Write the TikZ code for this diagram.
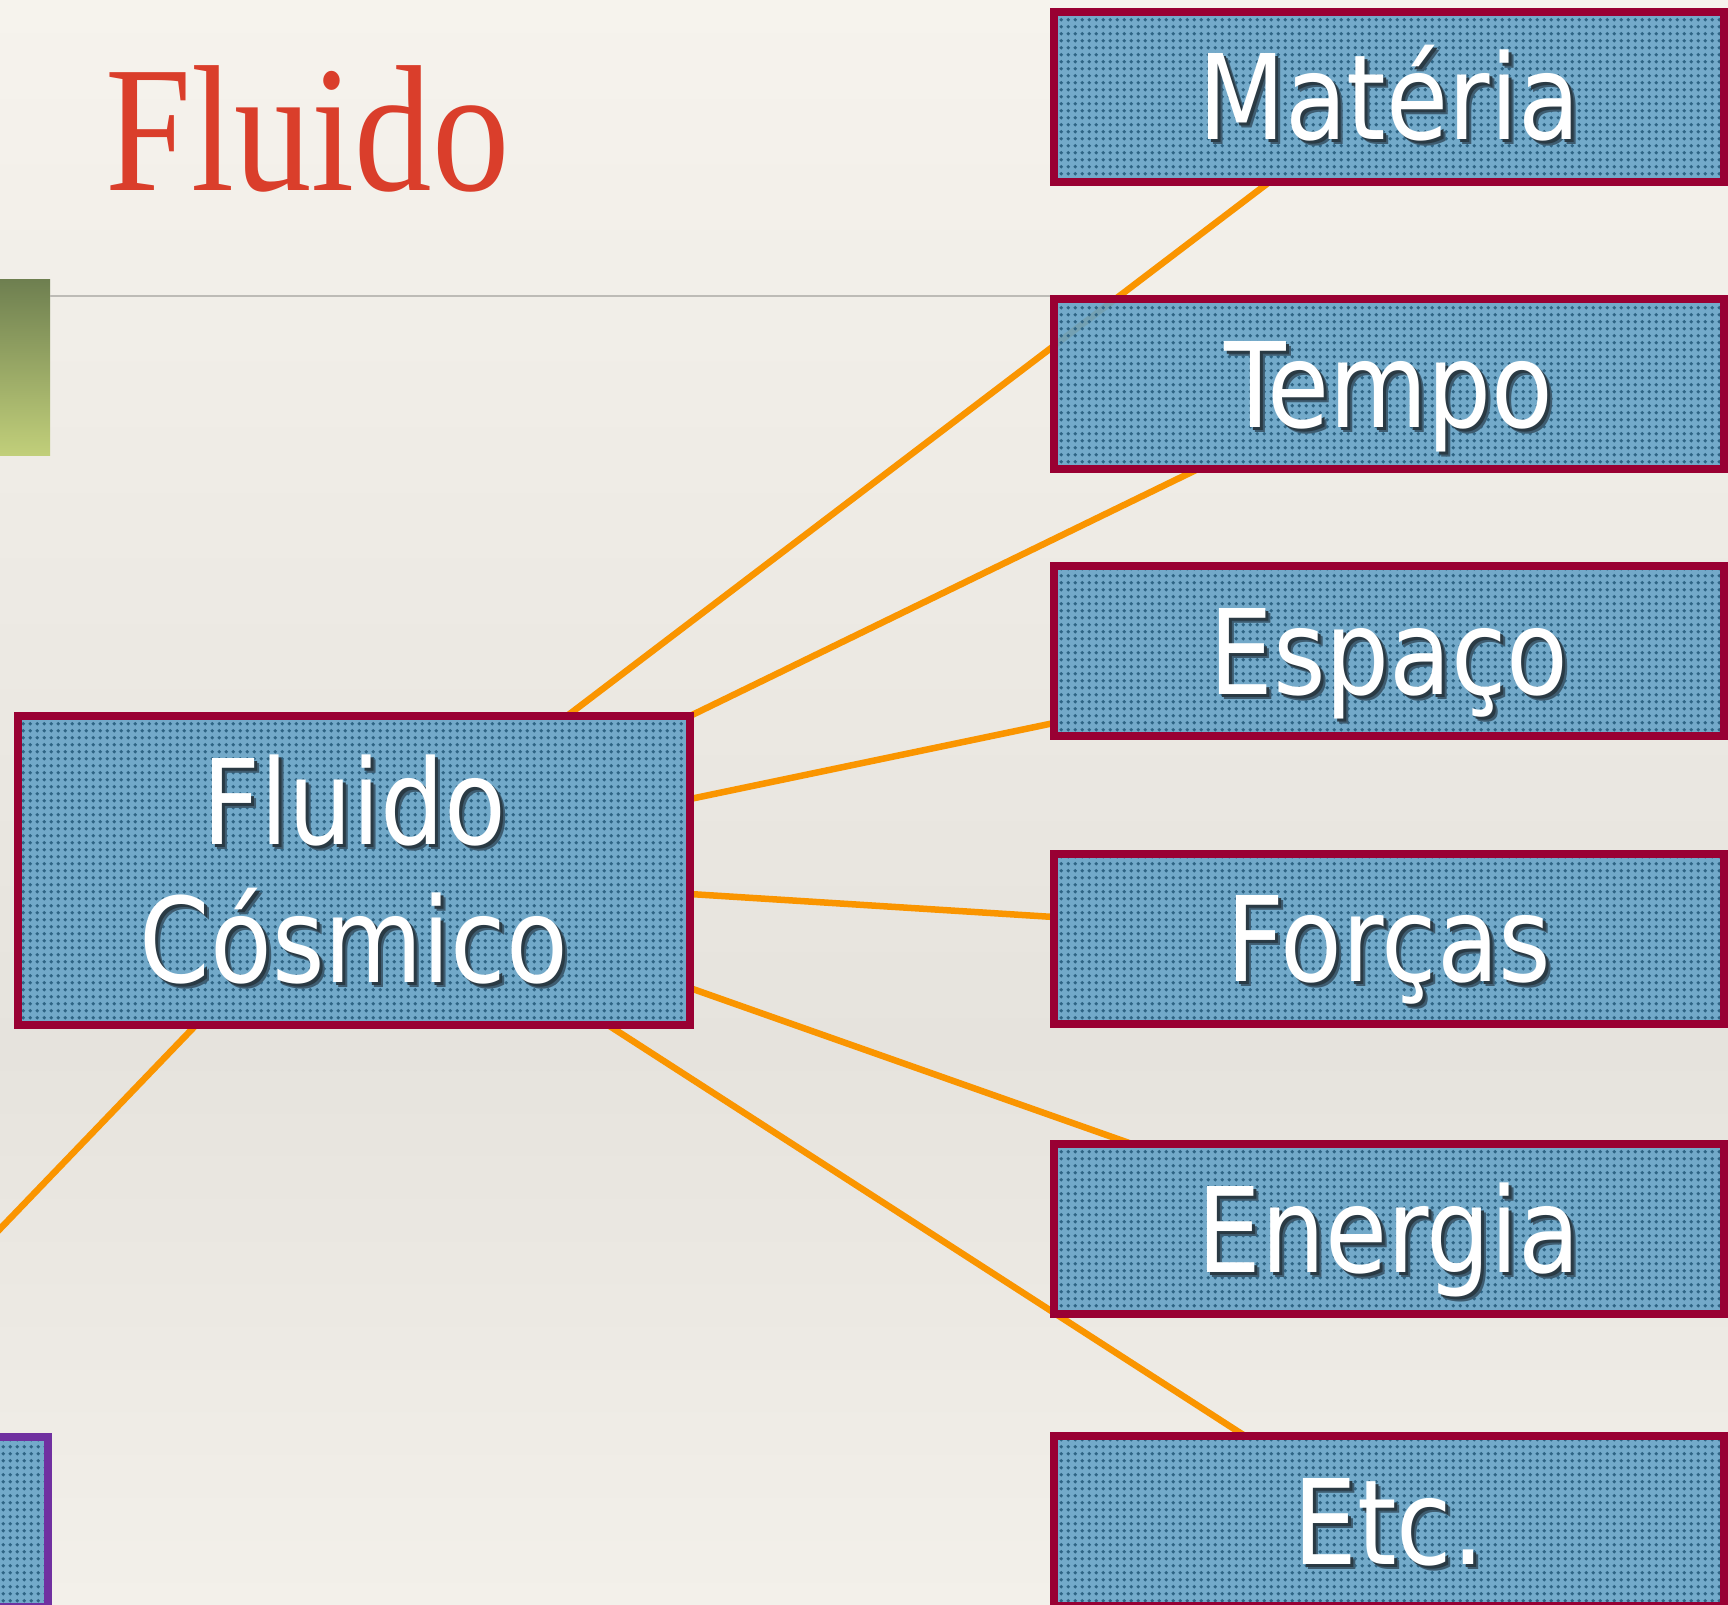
\documentclass[tikz,border=0pt]{standalone}
\usepackage{fontspec}
\usepackage{graphicx}
\usetikzlibrary{calc,patterns.meta}
\setmainfont{Liberation Serif}
\newfontfamily\boxfont[FakeStretch=0.95]{DejaVu Sans Condensed}
\definecolor{paperTop}{HTML}{F6F3ED}
\definecolor{paperMid}{HTML}{E6E3DD}
\definecolor{paperBot}{HTML}{F3F0EA}
\definecolor{barTop}{HTML}{6E7F50}
\definecolor{barBot}{HTML}{C1CF7A}
\definecolor{rulegray}{HTML}{BDBBB6}
\definecolor{titlered}{HTML}{DA3E2B}
\definecolor{boxred}{HTML}{990033}
\definecolor{boxpurple}{HTML}{7030A0}
\definecolor{boxblue}{HTML}{66A3C7}
\definecolor{dotblue}{HTML}{2E6484}
\definecolor{shade}{HTML}{2A3A44}
\definecolor{shadesoft}{HTML}{3E5C70}
\definecolor{linkorange}{HTML}{FA9500}
\tikzdeclarepattern{
  name=halftone,
  type=uncolored,
  bounding box={(0pt,0pt) and (6.7pt,6.7pt)},
  tile size={(6.7pt,6.7pt)},
  code={\fill (3.35pt,3.35pt) circle (2pt);}
}
\newcommand\shtxt[1]{\makebox[0pt][l]{\kern5pt\raisebox{-5pt}{\color{shadesoft}#1}}\makebox[0pt][l]{\kern3pt\raisebox{-3pt}{\color{shade}#1}}#1}
\pgfdeclarelayer{bg}
\pgfsetlayers{bg,main}
\begin{document}
\begin{tikzpicture}[x=1pt,y=-1pt,
  box/.style={draw=boxred, line width=8pt,
    preaction={fill=boxblue, fill opacity=0.9},
    preaction={pattern={halftone}, pattern color=dotblue},
    minimum width=670pt, minimum height=170pt, inner sep=0pt, outer sep=0pt,
    text=white, font=\boxfont\fontsize{118pt}{138pt}\selectfont,
    text height=86pt, text depth=0pt},
  link/.style={draw=linkorange, line width=6.5pt}]
\useasboundingbox (0,0) rectangle (1728,1604);
\begin{pgfonlayer}{bg}
\shade[top color=paperTop, bottom color=paperMid] (0,0) rectangle (1728,1050);
\shade[top color=paperMid, bottom color=paperBot] (0,1049) rectangle (1728,1604);
\end{pgfonlayer}
\clip (0,0) rectangle (1728,1604);
\shade[top color=barTop, bottom color=barBot] (0,279) rectangle (50,455);
\draw[rulegray, line width=2.5pt] (50,296) -- (1728,296);
\node[anchor=base west, inner sep=0pt, text=titlered, font=\fontsize{180pt}{200pt}\selectfont] (title) at (105,190) {\scalebox{0.86}[1]{Fluido}};
\node[box] (mat) at (1389,96.5) {\shtxt{Matéria}};
\node[box] (tem) at (1389,384) {\shtxt{Tempo}};
\node[box] (esp) at (1389,651) {\shtxt{Espaço}};
\node[box] (for) at (1389,938.5) {\shtxt{Forças}};
\node[box] (ene) at (1389,1229) {\shtxt{Energia}};
\node[box] (etc) at (1389,1521) {\shtxt{Etc.}};
\node[box, minimum width=672pt, minimum height=309pt, align=center, text height=224pt, text depth=0pt] (fc) at (354,870.5) {\shtxt{Fluido}\\\shtxt{Cósmico}};
\node[box, draw=boxpurple] (pb) at (-287,1522) {};
\begin{pgfonlayer}{bg}
\draw[link] ($(fc.north west)+(549,0)$) -- ($(mat.south west)+(216,0)$);
\draw[link] (fc.north east) -- ($(tem.south west)+(144,0)$);
\draw[link] ($(fc.north east)+(0,83)$) -- ($(esp.west)+(0,72)$);
\draw[link] ($(fc.north east)+(0,178)$) -- ($(for.west)+(0,-21.5)$);
\draw[link] ($(fc.north east)+(0,272)$) -- ($(ene.north west)+(78,0)$);
\draw[link] ($(fc.south west)+(590,0)$) -- ($(etc.north west)+(191,0)$);
\draw[link] ($(fc.south west)+(178,0)$) -- ($(pb.north west)+(422,0)$);
\end{pgfonlayer}
\end{tikzpicture}
\end{document}
